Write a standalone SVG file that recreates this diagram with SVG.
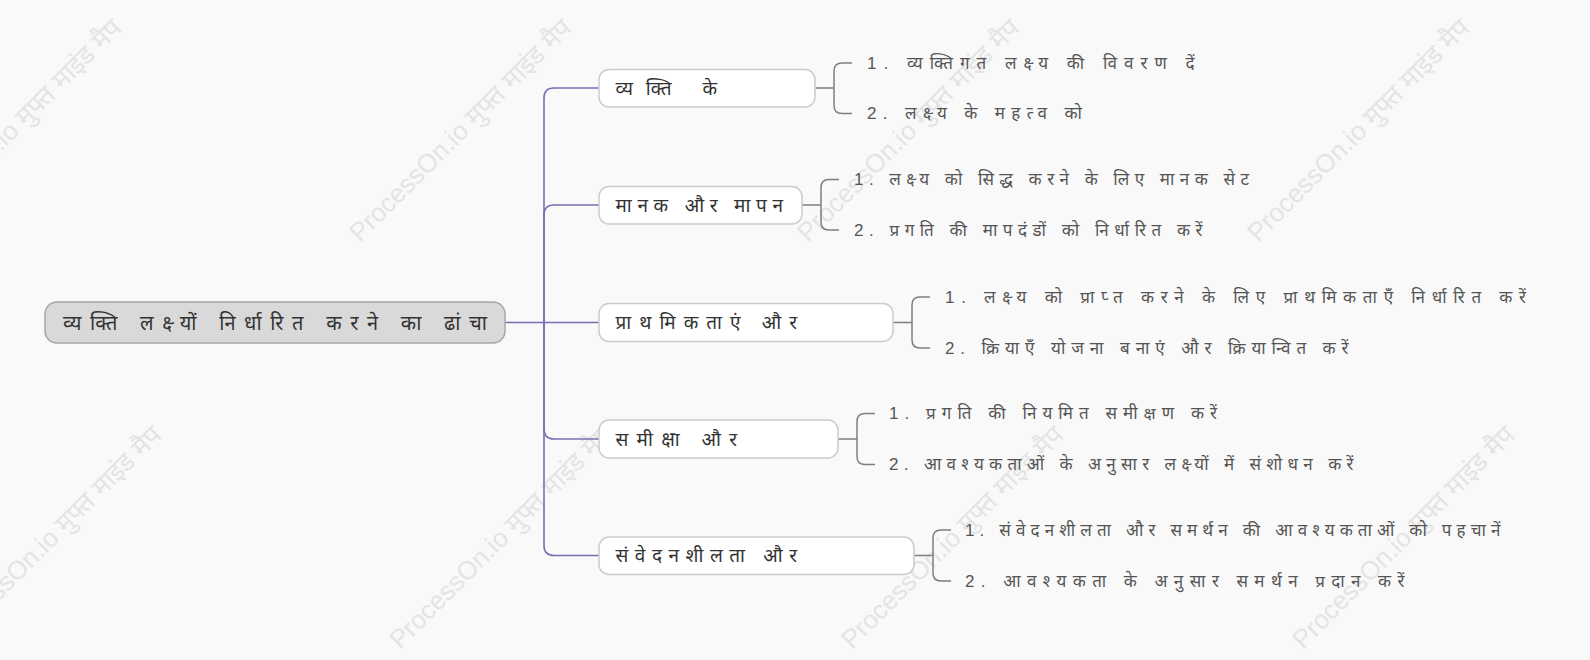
<svg xmlns="http://www.w3.org/2000/svg" width="1590" height="660" viewBox="0 0 1590 660">
<style>
.bg{fill:#f9f9f9}
.wm{font-family:"Liberation Sans","Noto Sans",sans-serif;font-size:26px;fill:#e4e4e4}
.root rect{fill:#d9d9d9;stroke:#a6a6a6;stroke-width:1.5}
.root text{font-family:"Liberation Sans","Noto Sans",sans-serif;font-size:20px;fill:#333;dominant-baseline:central}
.topic rect{fill:#ffffff;stroke:#cccccc;stroke-width:1.5}
.topic text{font-family:"Liberation Sans","Noto Sans",sans-serif;font-size:19px;fill:#333;dominant-baseline:central}
.leaf{font-family:"Liberation Sans","Noto Sans",sans-serif;font-size:17px;fill:#555;dominant-baseline:central}
.trunk{fill:none;stroke:#7670b3;stroke-width:1.6}
.brk{fill:none;stroke:#7f7f7f;stroke-width:1.5}
</style>
<rect class="bg" x="0" y="0" width="1590" height="660"/>
<g id="watermarks">
<text class="wm" transform="translate(-90,243) rotate(-45)">ProcessOn.io मुफ्त माइंड मैप</text>
<text class="wm" transform="translate(360,243) rotate(-45)">ProcessOn.io मुफ्त माइंड मैप</text>
<text class="wm" transform="translate(808,243) rotate(-45)">ProcessOn.io मुफ्त माइंड मैप</text>
<text class="wm" transform="translate(1258,243) rotate(-45)">ProcessOn.io मुफ्त माइंड मैप</text>
<text class="wm" transform="translate(-50,650) rotate(-45)">ProcessOn.io मुफ्त माइंड मैप</text>
<text class="wm" transform="translate(400,650) rotate(-45)">ProcessOn.io मुफ्त माइंड मैप</text>
<text class="wm" transform="translate(852,650) rotate(-45)">ProcessOn.io मुफ्त माइंड मैप</text>
<text class="wm" transform="translate(1303,650) rotate(-45)">ProcessOn.io मुफ्त माइंड मैप</text>
</g>
<g id="connectors">
<path class="trunk" d="M505,322.5 H599"/>
<path class="trunk" d="M544,322.5 V98 Q544,88 554,88 H599"/>
<path class="trunk" d="M544,322.5 V215 Q544,205 554,205 H599"/>
<path class="trunk" d="M544,322.5 V429 Q544,439 554,439 H599"/>
<path class="trunk" d="M544,322.5 V545.5 Q544,555.5 554,555.5 H599"/>
<path class="brk" d="M815,88 H834 M852,63 H842 Q834,63 834,71 V105.5 Q834,113.5 842,113.5 H852"/>
<path class="brk" d="M802,205 H821 M839,179.5 H829 Q821,179.5 821,187.5 V222 Q821,230 829,230 H839"/>
<path class="brk" d="M893,322.5 H912 M930,297 H920 Q912,297 912,305 V340 Q912,348 920,348 H930"/>
<path class="brk" d="M838,439 H857 M875,413.5 H865 Q857,413.5 857,421.5 V456.5 Q857,464.5 865,464.5 H875"/>
<path class="brk" d="M914,555.5 H933 M951,530 H941 Q933,530 933,538 V573 Q933,581 941,581 H951"/>
</g>
<g id="root" class="root">
<rect x="45" y="302" width="460" height="41" rx="12"/>
<text x="63" y="322.5" textLength="424" lengthAdjust="spacing">व्यक्ति लक्ष्यों निर्धारित करने का ढांचा</text>
</g>
<g id="topic1" class="topic">
<rect x="599" y="69.5" width="216" height="37.5" rx="10"/>
<text x="615.5" y="88" textLength="101.5" lengthAdjust="spacing">व्यक्ति के</text>
</g>
<g id="topic2" class="topic">
<rect x="599" y="186.5" width="203" height="37.5" rx="10"/>
<text x="615.5" y="205" textLength="167.5" lengthAdjust="spacing">मानक और मापन</text>
</g>
<g id="topic3" class="topic">
<rect x="599" y="303.5" width="294" height="38" rx="10"/>
<text x="615.5" y="322.5" textLength="181.5" lengthAdjust="spacing">प्राथमिकताएं और</text>
</g>
<g id="topic4" class="topic">
<rect x="599" y="420" width="239" height="38" rx="10"/>
<text x="615.5" y="439" textLength="121.5" lengthAdjust="spacing">समीक्षा और</text>
</g>
<g id="topic5" class="topic">
<rect x="599" y="537" width="315" height="37.5" rx="10"/>
<text x="615.5" y="555.5" textLength="181.5" lengthAdjust="spacing">संवेदनशीलता और</text>
</g>
<g id="leaves1">
<text class="leaf" x="867" y="63" textLength="327.5" lengthAdjust="spacing">1. व्यक्तिगत लक्ष्य की विवरण दें</text>
<text class="leaf" x="867" y="113.5" textLength="215" lengthAdjust="spacing">2. लक्ष्य के महत्व को</text>
</g>
<g id="leaves2">
<text class="leaf" x="854" y="179.5" textLength="395" lengthAdjust="spacing">1. लक्ष्य को सिद्ध करने के लिए मानक सेट</text>
<text class="leaf" x="854" y="230" textLength="348.5" lengthAdjust="spacing">2. प्रगति की मापदंडों को निर्धारित करें</text>
</g>
<g id="leaves3">
<text class="leaf" x="945" y="297" textLength="581" lengthAdjust="spacing">1. लक्ष्य को प्राप्त करने के लिए प्राथमिकताएँ निर्धारित करें</text>
<text class="leaf" x="945" y="348" textLength="403.5" lengthAdjust="spacing">2. क्रियाएँ योजना बनाएं और क्रियान्वित करें</text>
</g>
<g id="leaves4">
<text class="leaf" x="889" y="413.5" textLength="328" lengthAdjust="spacing">1. प्रगति की नियमित समीक्षण करें</text>
<text class="leaf" x="889" y="464.5" textLength="464.5" lengthAdjust="spacing">2. आवश्यकताओं के अनुसार लक्ष्यों में संशोधन करें</text>
</g>
<g id="leaves5">
<text class="leaf" x="965" y="530" textLength="535.5" lengthAdjust="spacing">1. संवेदनशीलता और समर्थन की आवश्यकताओं को पहचानें</text>
<text class="leaf" x="965" y="581" textLength="439.5" lengthAdjust="spacing">2. आवश्यकता के अनुसार समर्थन प्रदान करें</text>
</g>
</svg>
